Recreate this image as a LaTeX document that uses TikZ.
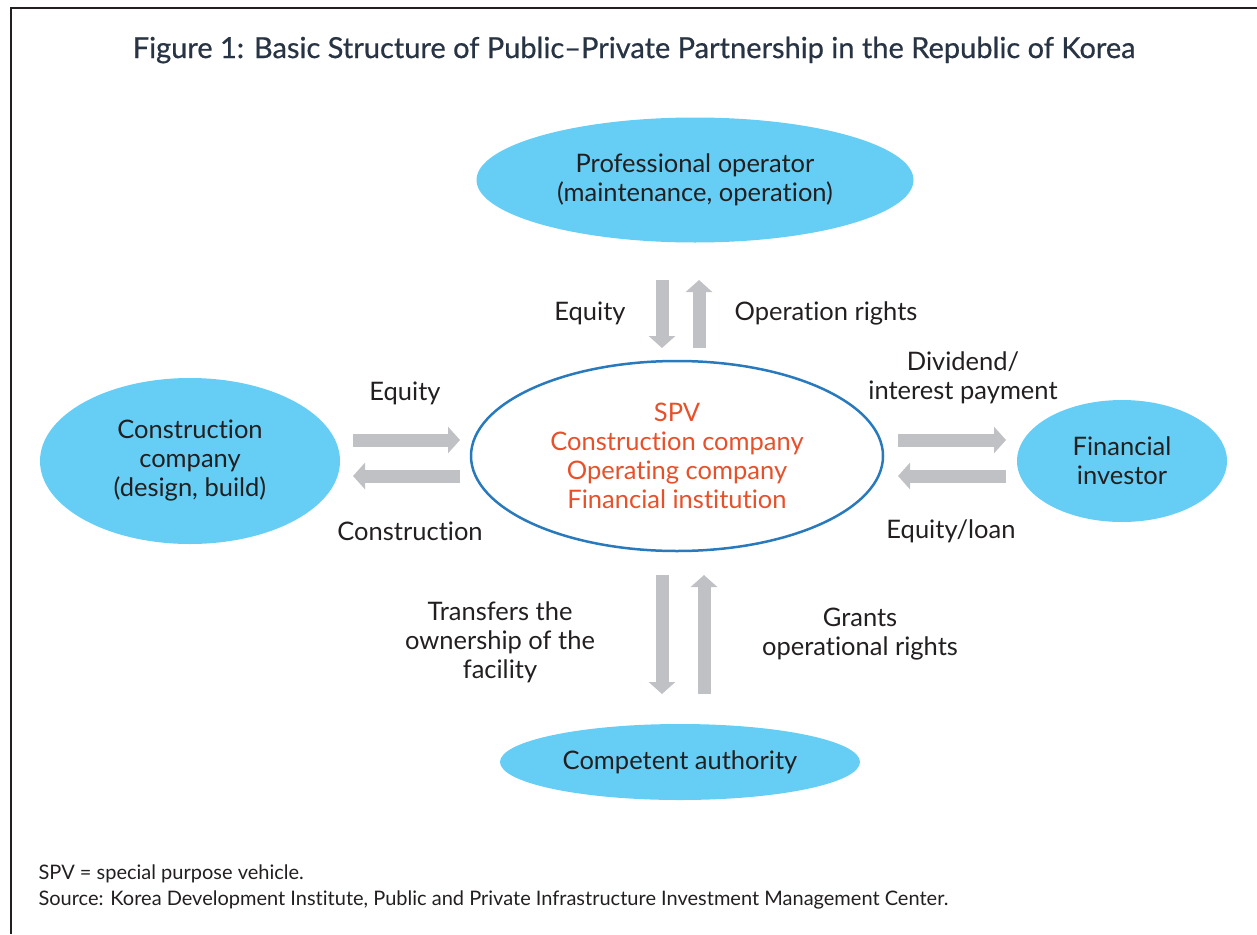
\documentclass[tikz,border=0pt]{standalone}
\usepackage{fontspec}
\setmainfont{Lato}[Ligatures=NoCommon]
\usetikzlibrary{shapes.geometric,arrows.meta}

\definecolor{partyblue}{RGB}{102,206,245}
\definecolor{spvblue}{RGB}{41,121,189}
\definecolor{spvred}{RGB}{232,80,42}
\definecolor{flowgray}{RGB}{192,193,196}
\definecolor{titleslate}{RGB}{40,52,68}
\definecolor{bodytext}{RGB}{35,31,32}

\newcommand{\bodysize}{\fontsize{25.5}{29}\selectfont}

\begin{document}
\begin{tikzpicture}[
  x=1pt, y=-1pt,
  party/.style={ellipse, fill=partyblue, inner sep=0pt, align=center, text=bodytext, font=\bodysize},
  flow/.style={-{Triangle[width=26pt,length=12pt]}, line width=13pt, draw=flowgray},
  lbl/.style={align=center, text=bodytext, font=\bodysize},
]
\useasboundingbox (0,0) rectangle (1257,934);

% frame
\draw [line width=1.7pt, bodytext] (11,934) -- (11,8) -- (1257,8);

\node [text=titleslate, font=\fontsize{29}{34}\selectfont\addfontfeature{FakeBold=0.6}] (title) at (634,50)
  {Figure 1: Basic Structure of Public--Private Partnership in the Republic of Korea};

% parties
\node [party, minimum width=437pt, minimum height=125pt] (oper) at (695,180)
  {Professional operator\\(maintenance, operation)};
\node [party, minimum width=300pt, minimum height=166pt] (cons) at (190,461)
  {Construction\\company\\(design, build)};
\node [party, minimum width=210pt, minimum height=122pt] (inv) at (1122,461)
  {Financial\\investor};
\node [party, minimum width=360pt, minimum height=76pt] (auth) at (680,762)
  {Competent authority};
\node [ellipse, draw=spvblue, line width=2.5pt, fill=white, inner sep=0pt,
  minimum width=412pt, minimum height=190pt, align=center, text=spvred, font=\bodysize] (spv) at (677,456)
  {SPV\\Construction company\\Operating company\\Financial institution};

% flow ends
\coordinate (opA) at (662,280);  \coordinate (opB) at (662,348);
\coordinate (opC) at (699,348);  \coordinate (opD) at (699,280);
\coordinate (csA) at (353,440);  \coordinate (csB) at (460,440);
\coordinate (csC) at (460,476);  \coordinate (csD) at (353,476);
\coordinate (ivA) at (898,440);  \coordinate (ivB) at (1006,440);
\coordinate (ivC) at (1006,476); \coordinate (ivD) at (898,476);
\coordinate (auA) at (662,575);  \coordinate (auB) at (662,694);
\coordinate (auC) at (704,694);  \coordinate (auD) at (704,575);

\draw [flow] (opA) -- (opB);
\draw [flow] (opC) -- (opD);
\draw [flow] (csA) -- (csB);
\draw [flow] (csC) -- (csD);
\draw [flow] (ivA) -- (ivB);
\draw [flow] (ivC) -- (ivD);
\draw [flow] (auA) -- (auB);
\draw [flow] (auC) -- (auD);

% labels
\node [lbl] (l-opeq) at (590,313) {Equity};
\node [lbl] (l-oprt) at (826,313) {Operation rights};
\node [lbl] (l-cseq) at (405,393) {Equity};
\node [lbl] (l-csbd) at (410,531) {Construction};
\node [lbl] (l-ivdv) at (963,378) {Dividend/\\interest payment};
\node [lbl] (l-ivln) at (951,531) {Equity/loan};
\node [lbl] (l-autr) at (500,642) {Transfers the\\ownership of the\\facility};
\node [lbl] (l-augr) at (860,634) {Grants\\operational rights};

% notes
\node [anchor=west, text=bodytext, font=\fontsize{20}{26}\selectfont, align=left] (notes) at (35,887)
  {SPV = special purpose vehicle.\\Source: Korea Development Institute, Public and Private Infrastructure Investment Management Center.};

\end{tikzpicture}
\end{document}
